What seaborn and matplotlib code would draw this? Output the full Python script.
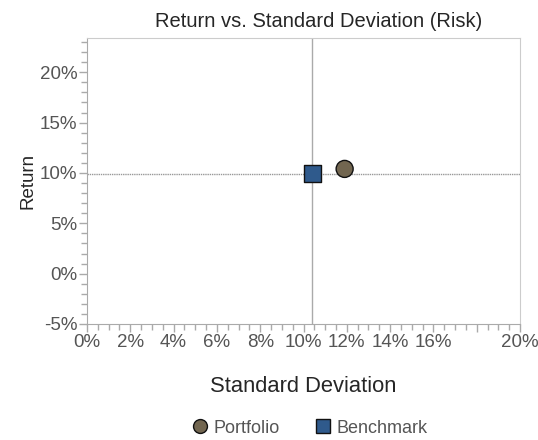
import pandas as pd
import numpy as np
import matplotlib.pyplot as plt
import seaborn as sns
from matplotlib.lines import Line2D

# Data (percent)
names = ["Portfolio", "Benchmark"]
std_dev = [11.9, 10.4]
returns = [10.4, 9.9]
colors = ["#726650", "#2f5a8c"]
markers = ["o", "s"]

df = pd.DataFrame({"Name": names, "Std": std_dev, "Return": returns})

sns.set_style("white")
plt.rcParams["font.family"] = ["Liberation Sans", "DejaVu Sans"]

fig = plt.figure(figsize=(5.38, 4.4), dpi=100)
ax = fig.add_axes([87 / 538, 1 - 324 / 440, 433 / 538, 286 / 440])

# crosshair at benchmark
ax.axvline(std_dev[1], color="#aaaaaa", lw=1, zorder=1)
ax.axhline(returns[1], color="#999999", lw=1, ls=(0, (1, 0.6)), zorder=1)

sns.scatterplot(data=df, x="Std", y="Return", hue="Name", style="Name",
                palette=dict(zip(names, colors)), markers=dict(zip(names, markers)),
                s=150, edgecolor="#111111", linewidth=1, ax=ax, zorder=3, legend=False)

ax.set_xlim(0, 20)
ax.set_ylim(-5, 23.4)

xt = np.arange(0, 21, 2)
ax.set_xticks(xt)
ax.set_xticklabels([f"{v}%" if v != 18 else "" for v in xt])
ax.set_xticks(np.arange(0, 20.01, 0.5), minor=True)
yt = np.arange(-5, 21, 5)
ax.set_yticks(yt)
ax.set_yticklabels([f"{v}%" for v in yt])
ax.set_yticks(np.arange(-5, 23.4, 1), minor=True)

ax.tick_params(axis="both", which="major", direction="out", length=6, width=1,
               color="#aaaaaa", labelcolor="#555555", labelsize=13.5, pad=1)
ax.tick_params(axis="both", which="minor", direction="out", length=4, width=1,
               color="#aaaaaa")
ax.tick_params(axis="x", which="both", bottom=True)
ax.tick_params(axis="y", which="both", left=True)

for side in ["left", "bottom"]:
    ax.spines[side].set_color("#aaaaaa")
for side in ["top", "right"]:
    ax.spines[side].set_color("#cccccc")

ax.set_title("Return vs. Standard Deviation (Risk)", fontsize=14.5, pad=8, x=0.535)
ax.set_xlabel("Standard Deviation", fontsize=15.8, labelpad=18)
ax.set_ylabel("Return", fontsize=13.5, labelpad=2)

# legend
handles = [Line2D([], [], ls="", marker=m, markersize=10, markerfacecolor=c,
                  markeredgecolor="#111111", label=n)
           for n, c, m in zip(names, colors, markers)]
leg = fig.legend(handles=handles, loc="center",
                 bbox_to_anchor=(308 / 538, 1 - 428 / 440),
                 ncol=2, frameon=False, fontsize=13, handletextpad=0.15,
                 handlelength=1.2, columnspacing=1.8)
for t in leg.get_texts():
    t.set_color("#555555")

fig.savefig("out.png", dpi=100)
